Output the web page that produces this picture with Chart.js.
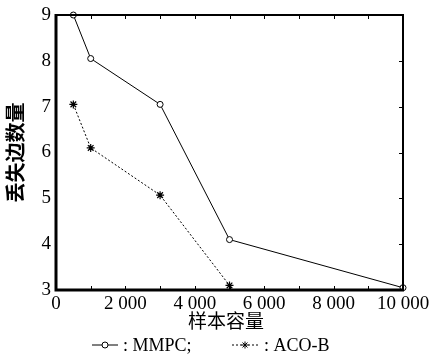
<!DOCTYPE html>
<html>
<head>
<meta charset="utf-8">
<script src="https://cdn.jsdelivr.net/npm/chart.js@4/dist/chart.umd.min.js"></script>
<style>
  html, body { margin: 0; padding: 0; background: #fff; }
  #wrap { width: 429px; height: 358px; }
</style>
</head>
<body>
<div id="wrap"><canvas id="chart" width="429" height="358"></canvas></div>
<script>
const sampleSizes = [500, 1000, 3000, 5000, 10000];
const mmpcLost = [9, 8.05, 7.05, 4.1, 3.05];
const acoSizes = [500, 1000, 3000, 5000];
const acoLost = [7.05, 6.1, 5.07, 3.1];
const xTicks = [0, 2000, 4000, 6000, 8000, 10000];
const yTicks = [3, 4, 5, 6, 7, 8, 9];

const serif = '"Liberation Serif", "Times New Roman", serif';
const cjk = '"Noto Sans CJK SC", sans-serif';

function fmt(v) {
  return String(v).replace(/\B(?=(\d{3})+(?!\d))/g, ' ');
}

// box, inward ticks, axis title, legend
const framePlugin = {
  id: 'frame',
  afterDraw(chart) {
    const ctx = chart.ctx;
    const a = chart.chartArea;
    const xs = chart.scales.x, ys = chart.scales.y;
    ctx.save();
    ctx.strokeStyle = '#000';
    ctx.lineWidth = 2;
    ctx.strokeRect(a.left, a.top, a.right - a.left, a.bottom - a.top);
    ctx.lineWidth = 3;
    ctx.beginPath();
    ctx.moveTo(a.left, a.top - 1);
    ctx.lineTo(a.left, a.bottom);
    ctx.lineTo(a.right + 1, a.bottom);
    ctx.stroke();
    ctx.lineWidth = 1;
    ctx.beginPath();
    for (let v = 1000; v < 10000; v += 1000) {
      const px = Math.round(xs.getPixelForValue(v)) + 0.5;
      ctx.moveTo(px, a.top); ctx.lineTo(px, a.top + 4);
      ctx.moveTo(px, a.bottom); ctx.lineTo(px, a.bottom - 4);
    }
    for (let v = 4; v < 9; v++) {
      const py = Math.round(ys.getPixelForValue(v)) + 0.5;
      ctx.moveTo(a.right, py); ctx.lineTo(a.right - 4, py);
    }
    ctx.stroke();

    // x title
    ctx.fillStyle = '#000';
    ctx.font = '19px ' + cjk;
    ctx.textAlign = 'center';
    ctx.textBaseline = 'middle';
    ctx.fillText('样本容量', 226, 321);

    // legend
    const ly = 345;
    ctx.font = '18px ' + serif;
    ctx.textAlign = 'left';
    ctx.lineWidth = 1;
    ctx.setLineDash([]);
    ctx.beginPath(); ctx.moveTo(92, ly); ctx.lineTo(118, ly); ctx.stroke();
    ctx.fillStyle = '#fff';
    ctx.beginPath(); ctx.arc(105, ly, 3, 0, Math.PI * 2); ctx.fill(); ctx.stroke();
    ctx.fillStyle = '#000';
    ctx.fillText(': MMPC;', 123, ly + 1);
    ctx.setLineDash([2, 2]);
    ctx.beginPath(); ctx.moveTo(232, ly); ctx.lineTo(258, ly); ctx.stroke();
    ctx.setLineDash([]);
    ctx.beginPath();
    for (let k = 0; k < 4; k++) {
      const ang = k * Math.PI / 4;
      ctx.moveTo(245 - 3.5 * Math.cos(ang), ly - 3.5 * Math.sin(ang));
      ctx.lineTo(245 + 3.5 * Math.cos(ang), ly + 3.5 * Math.sin(ang));
    }
    ctx.stroke();
    ctx.fillText(': ACO-B', 264, ly + 1);
    ctx.restore();
  }
};

new Chart(document.getElementById('chart'), {
  type: 'scatter',
  data: {
    datasets: [{
      label: 'MMPC',
      data: sampleSizes.map((x, i) => ({ x: x, y: mmpcLost[i] })),
      showLine: true,
      borderColor: '#000',
      borderWidth: 1,
      pointStyle: 'circle',
      pointRadius: 3,
      pointBackgroundColor: '#fff',
      pointBorderColor: '#000',
      pointBorderWidth: 1,
      clip: false
    }, {
      label: 'ACO-B',
      data: acoSizes.map((x, i) => ({ x: x, y: acoLost[i] })),
      showLine: true,
      borderColor: '#000',
      borderWidth: 1,
      borderDash: [2, 2],
      pointStyle: 'star',
      pointRadius: 4,
      pointBackgroundColor: '#000',
      pointBorderColor: '#000',
      pointBorderWidth: 1.2,
      clip: false
    }]
  },
  options: {
    responsive: false,
    animation: false,
    layout: { padding: { left: 3, right: 26, top: 15, bottom: 0 } },
    plugins: { legend: { display: false }, tooltip: { enabled: false } },
    scales: {
      x: {
        type: 'linear',
        min: 0,
        max: 10000,
        afterBuildTicks: (s) => { s.ticks = xTicks.map(v => ({ value: v })); },
        afterFit: (s) => { s.height = 68; s.paddingLeft = 0; s.paddingRight = 0; },
        grid: { display: false, drawTicks: false },
        border: { display: false },
        ticks: {
          color: '#000',
          font: { family: serif, size: 19 },
          padding: 3,
          maxRotation: 0,
          autoSkip: false,
          callback: (v) => fmt(v)
        }
      },
      y: {
        min: 3,
        max: 9,
        afterBuildTicks: (s) => { s.ticks = yTicks.map(v => ({ value: v })); },
        afterFit: (s) => { s.width = 53; s.paddingTop = 0; s.paddingBottom = 0; },
        grid: { display: false, drawTicks: false },
        border: { display: false },
        title: {
          display: true,
          text: '丢失边数量',
          color: '#000',
          font: { family: cjk, size: 20, weight: 'bold' },
          padding: { top: 0, bottom: 4 }
        },
        ticks: {
          color: '#000',
          font: { family: serif, size: 19 },
          padding: 5,
          autoSkip: false
        }
      }
    }
  },
  plugins: [framePlugin]
});
</script>
</body>
</html>
